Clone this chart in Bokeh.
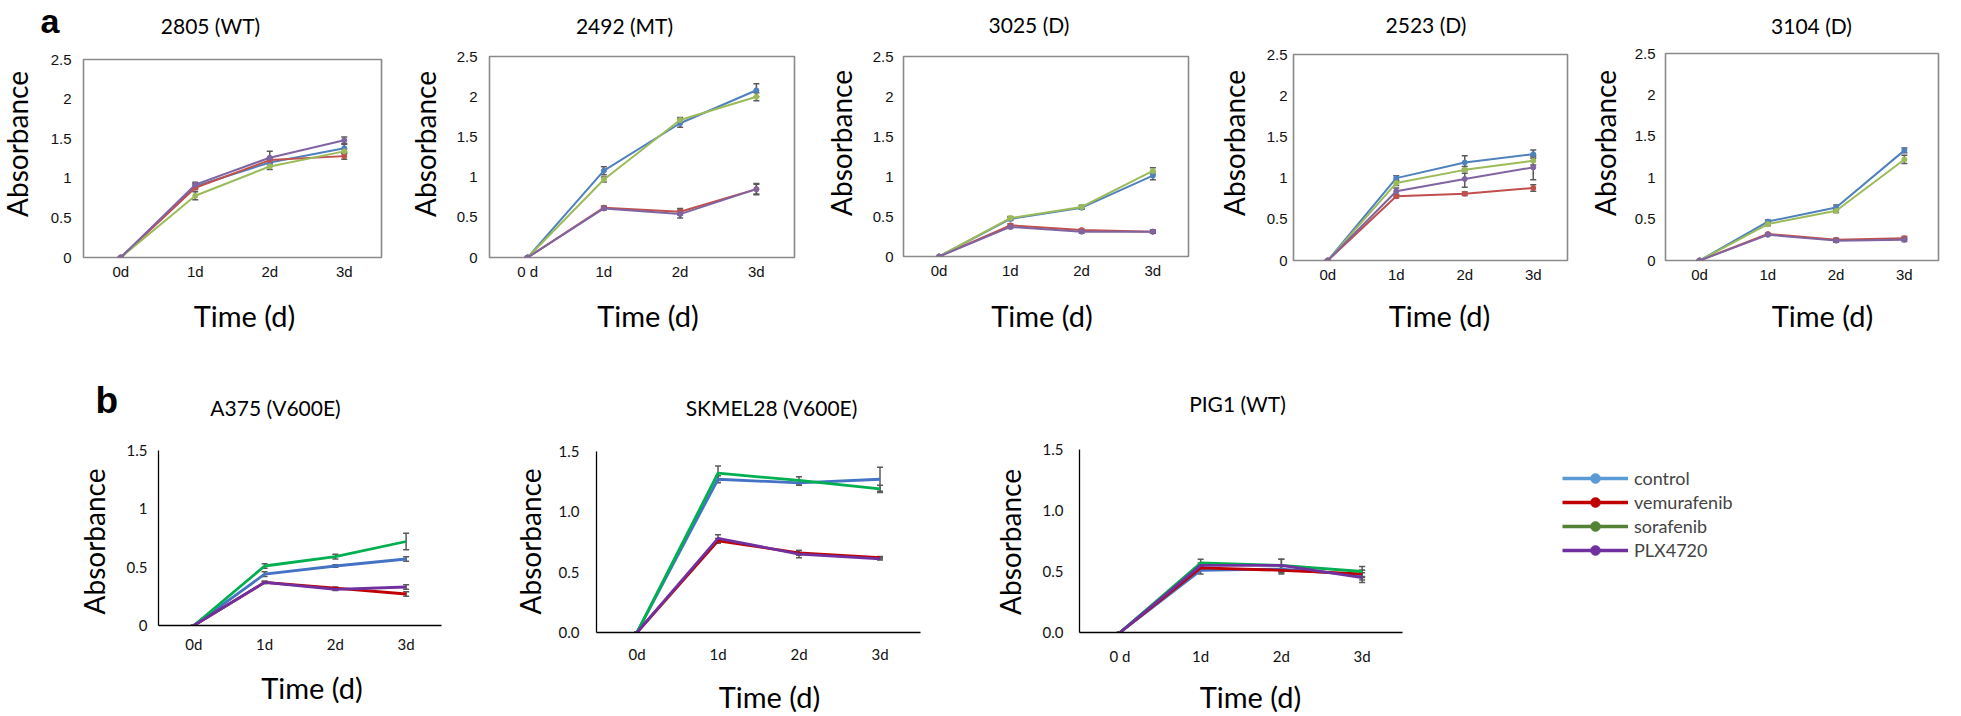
import numpy as np
from bokeh.plotting import figure
from bokeh.models import (Range1d, FixedTicker, Whisker, ColumnDataSource,
                          TeeHead, Legend, LegendItem, NumeralTickFormatter)
from bokeh.core.properties import value
from bokeh.layouts import row, column
from bokeh.embed import file_html
from bokeh.resources import INLINE

# ---------------- data ----------------
days = ["0d", "1d", "2d", "3d"]
days_sp = ["0 d", "1d", "2d", "3d"]
treatments = ["control", "vemurafenib", "sorafenib", "PLX4720"]
titles_a = ["2805 (WT)", "2492 (MT)", "3025 (D)", "2523 (D)", "3104 (D)"]
titles_b = ["A375 (V600E)", "SKMEL28 (V600E)", "PIG1 (WT)"]
y_title = "Absorbance"
x_title = "Time (d)"

# series order: control, vemurafenib, sorafenib, PLX4720
v2805 = [[0, 0.90, 1.20, 1.38], [0, 0.88, 1.23, 1.28], [0, 0.78, 1.15, 1.34], [0, 0.92, 1.26, 1.48]]
e2805 = [[0, 0.03, 0.05, 0.05], [0, 0.02, 0.03, 0.04], [0, 0.05, 0.04, 0.03], [0, 0.03, 0.08, 0.04]]
v2492 = [[0, 1.08, 1.67, 2.08], [0, 0.62, 0.57, 0.85], [0, 0.97, 1.71, 2.00], [0, 0.61, 0.54, 0.85]]
e2492 = [[0, 0.05, 0.05, 0.08], [0, 0.02, 0.04, 0.06], [0, 0.03, 0.03, 0.05], [0, 0.02, 0.05, 0.07]]
v3025 = [[0, 0.47, 0.61, 1.01], [0, 0.39, 0.33, 0.31], [0, 0.48, 0.62, 1.07], [0, 0.37, 0.31, 0.31]]
e3025 = [[0, 0.02, 0.02, 0.05], [0, 0.02, 0.01, 0.02], [0, 0.02, 0.02, 0.04], [0, 0.02, 0.02, 0.02]]
v2523 = [[0, 1.00, 1.19, 1.29], [0, 0.78, 0.81, 0.88], [0, 0.94, 1.10, 1.21], [0, 0.84, 0.99, 1.13]]
e2523 = [[0, 0.03, 0.08, 0.05], [0, 0.02, 0.02, 0.04], [0, 0.03, 0.04, 0.05], [0, 0.04, 0.10, 0.15]]
v3104 = [[0, 0.47, 0.64, 1.33], [0, 0.32, 0.25, 0.27], [0, 0.44, 0.60, 1.22], [0, 0.31, 0.24, 0.25]]
e3104 = [[0, 0.02, 0.03, 0.03], [0, 0.01, 0.02, 0.02], [0, 0.02, 0.02, 0.05], [0, 0.01, 0.02, 0.02]]
vA375 = [[0, 0.44, 0.51, 0.57], [0, 0.37, 0.32, 0.27], [0, 0.51, 0.59, 0.72], [0, 0.37, 0.31, 0.33]]
eA375 = [[0, 0.02, 0.01, 0.02], [0, 0.01, 0.01, 0.02], [0, 0.02, 0.02, 0.07], [0, 0.01, 0.01, 0.02]]
vSKMEL28 = [[0, 1.27, 1.24, 1.27], [0, 0.76, 0.66, 0.62], [0, 1.32, 1.26, 1.19], [0, 0.78, 0.65, 0.61]]
eSKMEL28 = [[0, 0.03, 0.02, 0.10], [0, 0.02, 0.02, 0.01], [0, 0.06, 0.03, 0.03], [0, 0.03, 0.03, 0.01]]
vPIG1 = [[0, 0.51, 0.52, 0.47], [0, 0.53, 0.51, 0.48], [0, 0.57, 0.55, 0.50], [0, 0.55, 0.55, 0.45]]
ePIG1 = [[0, 0.03, 0.03, 0.04], [0, 0.02, 0.03, 0.03], [0, 0.03, 0.05, 0.04], [0, 0.02, 0.05, 0.04]]

# ---------------- styles ----------------
colors_a = ["#4F81BD", "#C0504D", "#9BBB59", "#8064A2"]
colors_b = ["#4472C4", "#C00000", "#00B050", "#7030A0"]
colors_leg = ["#5B9BD5", "#C00000", "#548235", "#7030A0"]
CAL = "Lato"
ARIAL = "Liberation Sans"
PAGE_W = 1961


def noalign(p):
    if "frame_align" in p.properties():
        p.frame_align = False
    return p


def make_panel(vals, errs, xlabels, ymax, g, kind):
    fw, fh = g["fw"], g["fh"]
    p = figure(width=g["mbl"] + fw + g["mbr"], height=g["mbt"] + fh + g["mbb"],
               x_range=Range1d(-0.5, 3.5), y_range=Range1d(0, ymax),
               output_backend="svg", toolbar_location=None,
               min_border_left=g["mbl"], min_border_right=g["mbr"],
               min_border_top=g["mbt"], min_border_bottom=g["mbb"])
    noalign(p)
    p.xgrid.visible = False
    p.ygrid.visible = False
    x = np.arange(4)
    cols = colors_a if kind == "a" else colors_b
    lw = 2 if kind == "a" else 2.8
    for i in range(4):
        y = np.array(vals[i], dtype=float)
        e = np.array(errs[i], dtype=float)
        src = ColumnDataSource(dict(x=x, y=y, lo=y - e, hi=y + e))
        p.line("x", "y", source=src, line_color=cols[i], line_width=lw, line_join="round")
        if kind == "a":
            p.scatter("x", "y", source=src, size=5, fill_color=cols[i], line_color=cols[i])
        p.add_layout(Whisker(source=src, base="x", lower="lo", upper="hi",
                             line_color="#5a5a5a", line_width=1.5,
                             upper_head=TeeHead(size=6, line_color="#5a5a5a", line_width=1.5),
                             lower_head=TeeHead(size=6, line_color="#5a5a5a", line_width=1.5)))
    for ax in (p.xaxis[0], p.yaxis[0]):
        ax.major_tick_line_color = None
        ax.minor_tick_line_color = None
        ax.major_tick_out = 0
        ax.major_tick_in = 0
        ax.major_label_text_color = "#111111"
    p.xaxis.ticker = FixedTicker(ticks=[0, 1, 2, 3])
    p.xaxis.major_label_overrides = {i: lab for i, lab in enumerate(xlabels)}
    p.xaxis.major_label_standoff = g["xts"]
    p.yaxis.major_label_standoff = g["yts"]
    if kind == "a":
        p.yaxis.ticker = FixedTicker(ticks=[0, 0.5, 1, 1.5, 2, 2.5])
        p.yaxis.formatter = NumeralTickFormatter(format="0.[0]")
        for ax in (p.xaxis[0], p.yaxis[0]):
            ax.major_label_text_font = ARIAL
            ax.major_label_text_font_size = "15px"
            ax.axis_line_color = None
        p.outline_line_color = "#8a8a8a"
        p.outline_line_width = 1.6
    else:
        p.yaxis.ticker = FixedTicker(ticks=[0, 0.5, 1, 1.5])
        p.yaxis.formatter = NumeralTickFormatter(format=g["yfmt"])
        for ax in (p.xaxis[0], p.yaxis[0]):
            ax.major_label_text_font = CAL
            ax.major_label_text_font_size = "15px"
            ax.axis_line_color = "#000000"
            ax.axis_line_width = 1.3
        p.outline_line_color = None
    return p


def strip(w, h):
    p = figure(width=w, height=h, x_range=Range1d(0, w), y_range=Range1d(0, h),
               x_axis_type=None, y_axis_type=None, output_backend="svg",
               toolbar_location=None, min_border=0, outline_line_color=None)
    noalign(p)
    p.xgrid.visible = False
    p.ygrid.visible = False
    return p


def put(p, xs, ys_top, texts, size, font=CAL, style="normal", align="center",
        baseline="middle", angle=0.0):
    h = p.height
    p.text(x=list(xs), y=[h - yy for yy in ys_top], text=list(texts),
           text_font=value(font), text_font_size=size, text_font_style=style,
           text_align=align, text_baseline=baseline, angle=angle, text_color="#000000")


# ---------------- row 1 (panel a) ----------------
geo_a = [
    dict(fw=298, fh=198, mbl=40, mbr=20, mbt=15, mbb=28, xts=5, yts=12),
    dict(fw=305, fh=201, mbl=40, mbr=20, mbt=12, mbb=28, xts=5, yts=12),
    dict(fw=285, fh=200, mbl=40, mbr=20, mbt=12, mbb=29, xts=5, yts=10),
    dict(fw=274, fh=206, mbl=36, mbr=20, mbt=10, mbb=25, xts=5, yts=6),
    dict(fw=273, fh=209, mbl=36, mbr=23, mbt=9, mbb=23, xts=5, yts=10),
]
pa = [
    make_panel(v2805, e2805, days, 2.5, geo_a[0], "a"),
    make_panel(v2492, e2492, days_sp, 2.5, geo_a[1], "a"),
    make_panel(v3025, e3025, days, 2.5, geo_a[2], "a"),
    make_panel(v2523, e2523, days, 2.5, geo_a[3], "a"),
    make_panel(v3104, e3104, days, 2.5, geo_a[4], "a"),
]
ylab_a_w = [43, 48, 49, 49, 42]
ylab_a_x = [16, 23.5, 26.5, 25, 17.5]
ylab_a_y = [99.5, 99.5, 98.5, 98.5, 98.5]
row1 = []
for i in range(5):
    s = strip(ylab_a_w[i], 241)
    put(s, [ylab_a_x[i]], [ylab_a_y[i]], [y_title], "28px", angle=np.pi / 2)
    row1 += [s, pa[i]]

# ---------------- row 2 (panel b) ----------------
geo_b = [
    dict(fw=283, fh=175, mbl=40, mbr=20, mbt=22, mbb=43, xts=9, yts=11, yfmt="0.[0]"),
    dict(fw=324, fh=181, mbl=42, mbr=20, mbt=23, mbb=36, xts=12, yts=17, yfmt="0.0"),
    dict(fw=323, fh=183, mbl=45, mbr=30, mbt=21, mbb=36, xts=14, yts=16, yfmt="0.0"),
]
pb = [
    make_panel(vA375, eA375, days, 1.5, geo_b[0], "b"),
    make_panel(vSKMEL28, eSKMEL28, days, 1.5, geo_b[1], "b"),
    make_panel(vPIG1, ePIG1, days_sp, 1.5, geo_b[2], "b"),
]
ylab_b_w = [118, 93, 94]
ylab_b_x = [93, 68.5, 69.5]
ylab_b_y = [113, 113, 113.5]
row2 = []
for i in range(3):
    s = strip(ylab_b_w[i], 240)
    put(s, [ylab_b_x[i]], [ylab_b_y[i]], [y_title], "28px", angle=np.pi / 2)
    row2 += [s, pb[i]]

# legend figure (legend-only renderers holding no drawable point)
pl = figure(width=529, height=240, x_range=Range1d(0, 1), y_range=Range1d(0, 1),
            x_axis_type=None, y_axis_type=None, output_backend="svg",
            toolbar_location=None, min_border=0, outline_line_color=None)
noalign(pl)
pl.xgrid.visible = False
pl.ygrid.visible = False
items = []
for name, col in zip(treatments, colors_leg):
    src = ColumnDataSource(dict(x=[np.nan], y=[np.nan]))
    lr = pl.line("x", "y", source=src, line_color=col, line_width=3.5)
    sr = pl.scatter("x", "y", source=src, size=12, fill_color=col, line_color=col)
    items.append(LegendItem(label=name, renderers=[lr, sr]))
leg = Legend(items=items, location=(130, 106), glyph_width=66, glyph_height=24,
             label_height=20, label_standoff=6, spacing=0, padding=0, margin=0,
             label_text_font=CAL, label_text_font_size="18px",
             label_text_baseline="alphabetic",
             border_line_color=None, background_fill_alpha=0)
pl.add_layout(leg, "center")
row2.append(pl)

# ---------------- text strips ----------------
s1 = strip(PAGE_W, 44)
put(s1, [210, 624, 1028.5, 1425.5, 1811], [24.5, 24.5, 23.5, 23.5, 24.5], titles_a, "21px")
put(s1, [40], [20], ["a"], "34px", font=ARIAL, style="bold", align="left", baseline="middle")

s2 = strip(PAGE_W, 143)
put(s2, [244, 647.5, 1041.5, 1439, 1822], [30, 30, 30, 30, 30], [x_title] * 5, "29px")
put(s2, [275, 771, 1237], [121.5, 121.5, 117.5], titles_b, "21px")
put(s2, [95], [115], ["b"], "37px", font=ARIAL, style="bold", align="left", baseline="middle")

s3 = strip(PAGE_W, 48)
put(s3, [311.5, 769, 1250], [19, 28, 28], [x_title] * 3, "29px")

layout = column(s1, row(*row1, spacing=0), s2, row(*row2, spacing=0), s3, spacing=0)
open("out.html", "w").write(file_html(layout, INLINE))
